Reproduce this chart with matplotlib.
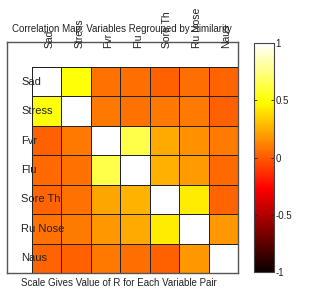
import matplotlib
matplotlib.use("Agg")
import matplotlib.pyplot as plt
import numpy as np

# correlation values (rows top->bottom, cols left->right)
variables = ["Sad", "Stress", "Fvr", "Flu", "Sore Th", "Ru Nose", "Naus"]
row_sad = [1.00, 0.50, 0.07, 0.06, 0.02, 0.06, 0.03]
row_stress = [0.50, 1.00, 0.09, 0.07, 0.09, 0.10, 0.02]
row_fvr = [0.02, 0.09, 1.00, 0.64, 0.24, 0.16, 0.10]
row_flu = [0.04, 0.07, 0.64, 1.00, 0.25, 0.19, 0.04]
row_sore = [0.03, 0.07, 0.22, 0.26, 1.00, 0.43, 0.03]
row_runose = [0.07, 0.10, 0.18, 0.24, 0.43, 1.00, 0.18]
row_naus = [0.03, 0.02, 0.09, 0.06, 0.02, 0.18, 1.00]
cbar_ticks = [-1, -0.5, 0, 0.5, 1]
cbar_labels = ["-1", "-0.5", "0", "0.5", "1"]

R = np.array([row_sad, row_stress, row_fvr, row_flu, row_sore, row_runose, row_naus])
n = len(variables)

plt.rcParams["font.family"] = ["Liberation Sans", "DejaVu Sans"]

fig = plt.figure(figsize=(3.09, 2.89), dpi=100)
fig.patch.set_facecolor("white")

ax = fig.add_axes([0.0227, 0.0554, 0.7476, 0.799])
edges = np.arange(n + 1) - 0.5
mesh = ax.pcolormesh(edges, edges, R, cmap="hot", vmin=-1, vmax=1,
                     edgecolors="#222222", linewidth=0.7)
ax.set_xlim(-1.35, n - 0.5)
ax.set_ylim(n - 0.5, -1.35)
ax.set_xticks([])
ax.set_yticks([])
for s in ax.spines.values():
    s.set_color("#555555")
    s.set_linewidth(1.0)

# row labels sit inside the box, partly over the first column
for i, name in enumerate(variables):
    ax.text(-0.87, i, name, ha="left", va="center", fontsize=8, color="#222222")
# column labels, rotated, poking above the box
for j, name in enumerate(variables):
    ax.text(j + 0.1, -1.15, name, ha="center", va="bottom", rotation=90,
            fontsize=7.5, color="#222222")

fig.text(0.396, 0.90, "Correlation Map: Variables Regrouped by Similarity",
         ha="center", va="center", fontsize=7, color="#222222")
fig.text(0.385, 0.021, "Scale Gives Value of R for Each Variable Pair",
         ha="center", va="center", fontsize=7, color="#222222")

cax = fig.add_axes([0.822, 0.0588, 0.0647, 0.792])
cb = fig.colorbar(mesh, cax=cax, ticks=cbar_ticks)
cb.ax.set_yticklabels(cbar_labels)
cb.outline.set_edgecolor("#444444")
cb.outline.set_linewidth(0.8)
cax.tick_params(axis="y", direction="in", length=2, width=0.6, labelsize=7,
                pad=1, left=True, right=True, colors="#222222")

fig.savefig("out.png", dpi=100)
